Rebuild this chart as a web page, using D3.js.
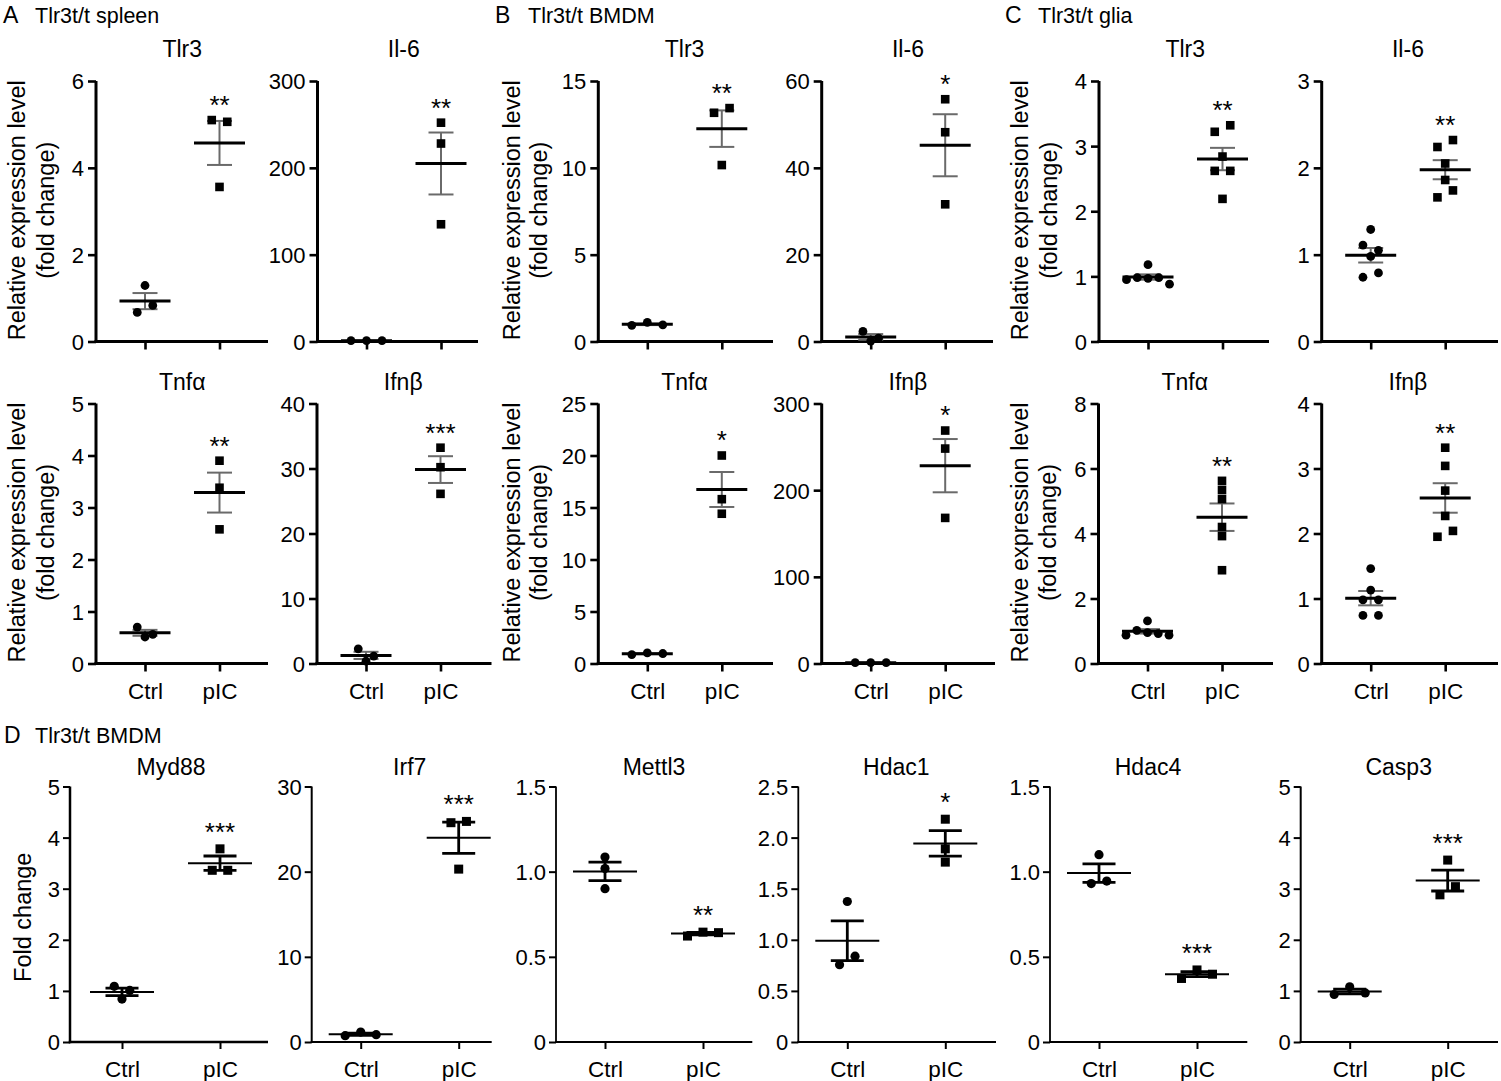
<!DOCTYPE html>
<html><head><meta charset="utf-8">
<script src="https://cdn.jsdelivr.net/npm/d3@7"></script>
<style>html,body{margin:0;padding:0;background:#fff} svg{display:block}</style>
</head><body>
<svg id="fig" width="1501" height="1081"></svg>
<script>
// ---------------- DATA ----------------
const groups = ["Ctrl", "pIC"];

// A - Tlr3t/t spleen
const spleenTlr3Ctrl = [1.29, 0.67, 0.83];
const spleenTlr3PIC  = [5.10, 5.06, 3.56];
const spleenIl6Ctrl  = [1.0, 1.1, 0.9];
const spleenIl6PIC   = [252, 228, 135];
const spleenTnfCtrl  = [0.70, 0.51, 0.56];
const spleenTnfPIC   = [3.90, 3.38, 2.58];
const spleenIfnCtrl  = [2.26, 0.36, 1.13];
const spleenIfnPIC   = [33.2, 30.2, 26.1];
// B - Tlr3t/t BMDM
const bmdmTlr3Ctrl = [0.93, 1.10, 0.96];
const bmdmTlr3PIC  = [13.17, 13.44, 10.16];
const bmdmIl6Ctrl  = [2.31, 0.10, 0.77];
const bmdmIl6PIC   = [55.8, 48.2, 31.6];
const bmdmTnfCtrl  = [0.86, 1.02, 0.96];
const bmdmTnfPIC   = [20.0, 15.8, 14.4];
const bmdmIfnCtrl  = [1.0, 1.1, 0.9];
const bmdmIfnPIC   = [268.8, 248, 168];
// C - Tlr3t/t glia
const gliaTlr3Ctrl = [1.18, 0.95, 0.98, 0.97, 0.98, 0.88];
const gliaTlr3PIC  = [3.22, 3.32, 2.84, 2.62, 2.62, 2.19];
const gliaIl6Ctrl  = [1.29, 1.11, 1.05, 0.98, 0.74, 0.79];
const gliaIl6PIC   = [2.24, 2.32, 2.05, 1.86, 1.66, 1.74];
const gliaTnfCtrl  = [1.31, 0.87, 1.02, 0.95, 0.92, 0.87];
const gliaTnfPIC   = [5.62, 5.34, 5.06, 4.20, 3.92, 2.87];
const gliaIfnCtrl  = [1.46, 1.13, 0.98, 0.98, 0.74, 0.74];
const gliaIfnPIC   = [3.32, 3.04, 2.66, 2.27, 1.95, 2.04];
// D - Tlr3t/t BMDM
const myd88Ctrl  = [1.09, 0.84, 1.01];
const myd88PIC   = [3.78, 3.36, 3.36];
const irf7Ctrl   = [0.74, 1.17, 0.86];
const irf7PIC    = [25.75, 25.9, 20.3];
const mettl3Ctrl = [1.086, 1.018, 0.90];
const mettl3PIC  = [0.622, 0.645, 0.642];
const hdac1Ctrl  = [1.375, 0.757, 0.84];
const hdac1PIC   = [2.18, 1.89, 1.76];
const hdac4Ctrl  = [1.10, 0.93, 0.945];
const hdac4PIC   = [0.373, 0.423, 0.398];
const casp3Ctrl  = [0.93, 1.08, 0.96];
const casp3PIC   = [3.56, 2.88, 3.04];

// tick values
const spleenTlr3Ticks = [0, 2, 4, 6];
const spleenIl6Ticks  = [0, 100, 200, 300];
const spleenTnfTicks  = [0, 1, 2, 3, 4, 5];
const spleenIfnTicks  = [0, 10, 20, 30, 40];
const bmdmTlr3Ticks = [0, 5, 10, 15];
const bmdmIl6Ticks  = [0, 20, 40, 60];
const bmdmTnfTicks  = [0, 5, 10, 15, 20, 25];
const bmdmIfnTicks  = [0, 100, 200, 300];
const gliaTlr3Ticks = [0, 1, 2, 3, 4];
const gliaIl6Ticks  = [0, 1, 2, 3];
const gliaTnfTicks  = [0, 2, 4, 6, 8];
const gliaIfnTicks  = [0, 1, 2, 3, 4];
const myd88Ticks  = [0, 1, 2, 3, 4, 5];
const irf7Ticks   = [0, 10, 20, 30];
const mettl3Ticks = [0, 0.5, 1.0, 1.5];
const hdac1Ticks  = [0, 0.5, 1.0, 1.5, 2.0, 2.5];
const hdac4Ticks  = [0, 0.5, 1.0, 1.5];
const casp3Ticks  = [0, 1, 2, 3, 4, 5];

// significance labels
const spleenStars = ["**", "**", "**", "***"];
const bmdmStars   = ["**", "*", "*", "*"];
const gliaStars   = ["**", "**", "**", "**"];
const dStars      = ["***", "***", "**", "*", "***", "***"];

// ---------------- LAYOUT / STYLE ----------------
const FONT = "'Liberation Sans', Arial, Helvetica, sans-serif";
const HEAD_FONT = "'Liberation Sans', Arial, sans-serif";
const FS = {tick: 22, title: 23, ylab: 23.5, xlab: 22.5, star: 26, head: 21.5, letter: 23};

const ROWS = {
  r1: {top: 81, bottom: 341.5, title: 57, xlab: false},
  r2: {top: 403.5, bottom: 663.5, title: 390, xlab: true},
  d:  {top: 786.5, bottom: 1042, title: 775, xlab: true}
};
const ABC = {axisW: 3, tickW: 2.6, tickLen: 8, pad: 4, meanW: 3, meanHalf: 25.5,
             semW: 2, semHalf: 12.5, semColor: "#6a6a6a", r: 4.4, sq: 8.6,
             gap: 74.5, cxOff: 49, starOff: 21};
const DST = {axisW: 2, tickW: 2, tickLen: 7, pad: 3, meanW: 2, meanHalf: 32,
             semW: 2.8, semHalf: 16.5, semColor: "#000", r: 4.6, sq: 9,
             gap: 98, cxOff: 49, starOff: 23};
const ROW_GAP = 8.8;   // points closer than this (px) are spread side by side

const YLAB2 = ["Relative expression level", "(fold change)"];
const YLAB1 = ["Fold change"];

const plots = [
  // A
  {title: "Tlr3", ctrl: spleenTlr3Ctrl, pic: spleenTlr3PIC, ticks: spleenTlr3Ticks, star: spleenStars[0], row: "r1", left: 96, right: 268, st: ABC, ylab: YLAB2, yoff: [-71, -42.5]},
  {title: "Il-6", ctrl: spleenIl6Ctrl, pic: spleenIl6PIC, ticks: spleenIl6Ticks, star: spleenStars[1], row: "r1", left: 317.5, right: 478, st: ABC},
  {title: "Tnf\u03b1", ctrl: spleenTnfCtrl, pic: spleenTnfPIC, ticks: spleenTnfTicks, star: spleenStars[2], row: "r2", left: 96, right: 268, st: ABC, ylab: YLAB2, yoff: [-71, -42.5]},
  {title: "Ifn\u03b2", ctrl: spleenIfnCtrl, pic: spleenIfnPIC, ticks: spleenIfnTicks, star: spleenStars[3], row: "r2", left: 317, right: 491.5, st: ABC},
  // B
  {title: "Tlr3", ctrl: bmdmTlr3Ctrl, pic: bmdmTlr3PIC, ticks: bmdmTlr3Ticks, star: bmdmStars[0], row: "r1", left: 598.3, right: 773, st: ABC, ylab: YLAB2, yoff: [-78, -51]},
  {title: "Il-6", ctrl: bmdmIl6Ctrl, pic: bmdmIl6PIC, ticks: bmdmIl6Ticks, star: bmdmStars[1], row: "r1", left: 821.7, right: 993, st: ABC},
  {title: "Tnf\u03b1", ctrl: bmdmTnfCtrl, pic: bmdmTnfPIC, ticks: bmdmTnfTicks, star: bmdmStars[2], row: "r2", left: 598.3, right: 773, st: ABC, ylab: YLAB2, yoff: [-78, -51]},
  {title: "Ifn\u03b2", ctrl: bmdmIfnCtrl, pic: bmdmIfnPIC, ticks: bmdmIfnTicks, star: bmdmStars[3], row: "r2", left: 821.7, right: 995, st: ABC},
  // C
  {title: "Tlr3", ctrl: gliaTlr3Ctrl, pic: gliaTlr3PIC, ticks: gliaTlr3Ticks, star: gliaStars[0], row: "r1", left: 1099, right: 1269, st: ABC, ylab: YLAB2, yoff: [-71, -42.5]},
  {title: "Il-6", ctrl: gliaIl6Ctrl, pic: gliaIl6PIC, ticks: gliaIl6Ticks, star: gliaStars[1], row: "r1", left: 1321.7, right: 1498, st: ABC},
  {title: "Tnf\u03b1", ctrl: gliaTnfCtrl, pic: gliaTnfPIC, ticks: gliaTnfTicks, star: gliaStars[2], row: "r2", left: 1098.5, right: 1273, st: ABC, ylab: YLAB2, yoff: [-71, -42.5]},
  {title: "Ifn\u03b2", ctrl: gliaIfnCtrl, pic: gliaIfnPIC, ticks: gliaIfnTicks, star: gliaStars[3], row: "r2", left: 1321.7, right: 1498, st: ABC},
  // D
  {title: "Myd88", ctrl: myd88Ctrl, pic: myd88PIC, ticks: myd88Ticks, star: dStars[0], row: "d", left: 70, right: 268, st: Object.assign({}, DST, {axisW: 2.5, cxOff: 52}), ylab: YLAB1, yoff: [-39]},
  {title: "Irf7", ctrl: irf7Ctrl, pic: irf7PIC, ticks: irf7Ticks, star: dStars[1], row: "d", left: 311.7, right: 491.7, st: DST},
  {title: "Mettl3", ctrl: mettl3Ctrl, pic: mettl3PIC, ticks: mettl3Ticks, star: dStars[2], row: "d", left: 556, right: 752.3, st: Object.assign({}, DST, {axisW: 1.8})},
  {title: "Hdac1", ctrl: hdac1Ctrl, pic: hdac1PIC, ticks: hdac1Ticks, star: dStars[3], row: "d", left: 798.3, right: 996, st: Object.assign({}, DST, {axisW: 1.8})},
  {title: "Hdac4", ctrl: hdac4Ctrl, pic: hdac4PIC, ticks: hdac4Ticks, star: dStars[4], row: "d", left: 1050, right: 1247.3, st: Object.assign({}, DST, {axisW: 1.8})},
  {title: "Casp3", ctrl: casp3Ctrl, pic: casp3PIC, ticks: casp3Ticks, star: dStars[5], row: "d", left: 1300.7, right: 1498, st: DST}
];

const headers = [
  {letter: "A", text: "Tlr3t/t spleen", x: 3, tx: 35, y: 23},
  {letter: "B", text: "Tlr3t/t BMDM", x: 495, tx: 528, y: 23},
  {letter: "C", text: "Tlr3t/t glia", x: 1005, tx: 1038, y: 23},
  {letter: "D", text: "Tlr3t/t BMDM", x: 4, tx: 35, y: 743}
];

// ---------------- DRAW ----------------
const svg = d3.select("#fig");
svg.append("rect").attr("width", 1501).attr("height", 1081).attr("fill", "#fff");

headers.forEach(h => {
  svg.append("text").attr("x", h.x).attr("y", h.y).attr("font-family", HEAD_FONT)
    .attr("font-size", FS.letter).attr("fill", "#000").text(h.letter);
  svg.append("text").attr("x", h.tx).attr("y", h.y).attr("font-family", HEAD_FONT)
    .attr("font-size", FS.head).attr("fill", "#000").text(h.text);
});

function spread(values, y, cx) {
  const items = values.map((v, i) => ({v, i, py: y(v)}));
  const sorted = items.slice().sort((a, b) => a.py - b.py);
  const rows = [];
  let cur = null;
  sorted.forEach(p => {
    if (cur && p.py - cur[0].py < ROW_GAP) cur.push(p);
    else { cur = [p]; rows.push(cur); }
  });
  rows.forEach(r => {
    r.sort((a, b) => a.i - b.i);
    const n = r.length;
    const s = n > 1 ? Math.min(15.5, 43 / (n - 1)) : 0;
    r.forEach((p, k) => { p.px = cx + (k - (n - 1) / 2) * s; });
  });
  return items;
}

plots.forEach(p => {
  const st = p.st, row = ROWS[p.row];
  const g = svg.append("g");
  const ymax = p.ticks[p.ticks.length - 1];
  const y = d3.scaleLinear().domain([0, ymax]).range([row.bottom, row.top]);
  const cx = p.left + st.cxOff;
  const x = d3.scalePoint().domain(groups).range([cx, cx + st.gap]);
  const decimals = p.ticks.some(t => t % 1 !== 0);
  const fmt = v => v === 0 ? "0" : (decimals ? v.toFixed(1) : String(v));

  // y axis
  const ya = g.append("g").attr("transform", `translate(${p.left},0)`)
    .call(d3.axisLeft(y).tickValues(p.ticks).tickFormat(fmt).tickSize(st.tickLen).tickSizeOuter(0).tickPadding(st.pad));
  ya.attr("font-family", FONT).attr("font-size", FS.tick);
  ya.select(".domain").attr("stroke", "#000").attr("stroke-width", st.axisW)
    .attr("d", `M0,${row.top}V${row.bottom + st.axisW / 2}`);
  ya.selectAll(".tick line").attr("stroke", "#000").attr("stroke-width", st.tickW);
  ya.selectAll(".tick text").attr("fill", "#000").attr("dy", "0.36em");

  // x axis
  const xa = g.append("g").attr("transform", `translate(0,${row.bottom})`)
    .call(d3.axisBottom(x).tickSize(st.tickLen).tickSizeOuter(0).tickPadding(12)
      .tickFormat(d => row.xlab ? d : ""));
  xa.attr("font-family", FONT).attr("font-size", FS.xlab);
  xa.select(".domain").attr("stroke", "#000").attr("stroke-width", st.axisW)
    .attr("d", `M${p.left - st.axisW / 2},0H${p.right}`);
  xa.selectAll(".tick line").attr("stroke", "#000").attr("stroke-width", st.tickW);
  xa.selectAll(".tick text").attr("fill", "#000");

  // title
  g.append("text").attr("x", (x("Ctrl") + x("pIC")) / 2).attr("y", row.title)
    .attr("text-anchor", "middle").attr("font-family", FONT).attr("font-size", FS.title)
    .attr("fill", "#000").text(p.title);

  // y label
  if (p.ylab) {
    const yc = (row.top + row.bottom) / 2 + (p.row === "d" ? 3 : -1);
    p.ylab.forEach((line, k) => {
      const bx = p.left + p.yoff[k];
      g.append("text").attr("transform", `translate(${bx},${yc}) rotate(-90)`)
        .attr("text-anchor", "middle").attr("font-family", FONT).attr("font-size", FS.ylab)
        .attr("fill", "#000").text(line);
    });
  }

  // groups
  [["Ctrl", p.ctrl], ["pIC", p.pic]].forEach(([grp, vals]) => {
    const gx = x(grp);
    const m = d3.mean(vals);
    const sem = d3.deviation(vals) / Math.sqrt(vals.length);
    const gg = g.append("g");
    // SEM
    gg.append("line").attr("x1", gx).attr("x2", gx).attr("y1", y(m + sem)).attr("y2", y(m - sem))
      .attr("stroke", st.semColor).attr("stroke-width", st.semW);
    [m + sem, m - sem].forEach(v => {
      gg.append("line").attr("x1", gx - st.semHalf).attr("x2", gx + st.semHalf)
        .attr("y1", y(v)).attr("y2", y(v)).attr("stroke", st.semColor).attr("stroke-width", st.semW);
    });
    // points
    const pts = spread(vals, y, gx);
    if (grp === "Ctrl") {
      gg.selectAll("circle").data(pts).join("circle")
        .attr("cx", d => d.px).attr("cy", d => d.py).attr("r", st.r).attr("fill", "#000");
    } else {
      gg.selectAll("rect").data(pts).join("rect")
        .attr("x", d => d.px - st.sq / 2).attr("y", d => d.py - st.sq / 2)
        .attr("width", st.sq).attr("height", st.sq).attr("fill", "#000");
    }
    // mean
    gg.append("line").attr("x1", gx - st.meanHalf).attr("x2", gx + st.meanHalf)
      .attr("y1", y(m)).attr("y2", y(m)).attr("stroke", "#000").attr("stroke-width", st.meanW);
  });

  // significance stars
  const topY = y(d3.max(p.pic)) - st.starOff;
  g.append("text").attr("x", x("pIC")).attr("y", topY + 0.57 * FS.star)
    .attr("text-anchor", "middle").attr("font-family", FONT).attr("font-size", FS.star)
    .attr("fill", "#000").text(p.star);
});
</script>
</body></html>
